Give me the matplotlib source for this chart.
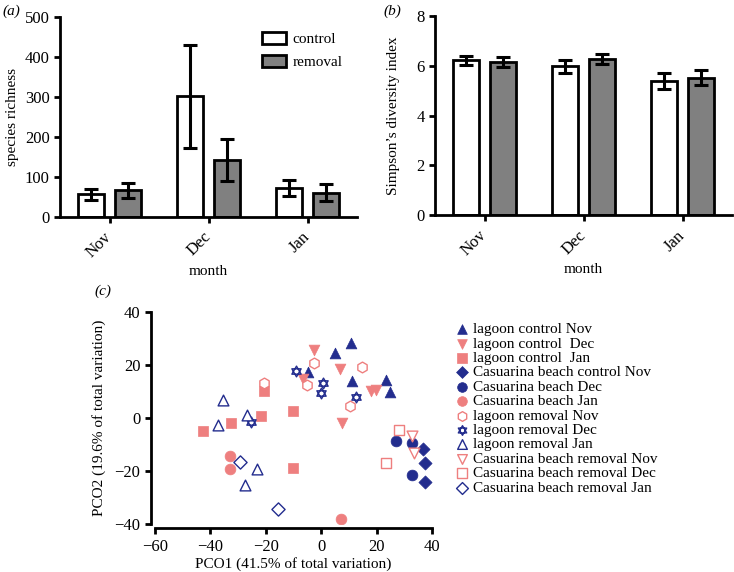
import numpy as np
import matplotlib.pyplot as plt
from matplotlib.path import Path

plt.rcParams['font.family'] = ['Liberation Serif', 'DejaVu Serif']
plt.rcParams['font.size'] = 10.5

# data
months = ['Nov', 'Dec', 'Jan']
rich_control = [56, 301, 72]
rich_control_err = [14, 128, 19]
rich_removal = [66, 142, 60]
rich_removal_err = [19, 53, 21]
simp_control = [6.22, 5.98, 5.38]
simp_control_err = [0.19, 0.26, 0.32]
simp_removal = [6.14, 6.26, 5.52]
simp_removal_err = [0.21, 0.2, 0.31]

lagoon_control_nov = ([10.6, 5.1, -4.8, 11.1, 23.3, 24.7], [28.3, 24.5, 17.3, 13.9, 14.2, 9.8])
lagoon_control_dec = ([-2.7, 6.9, -6.4, 18.1, 19.9, 7.6], [25.5, 18.6, 14.6, 10.2, 10.7, -1.9])
lagoon_control_jan = ([-42.8, -32.5, -20.8, -21.8, -10.2, -10.2], [-4.9, -1.9, 10.2, 0.75, 2.5, -18.8])
cas_control_nov = ([36.7, 37.3, 37.3], [-11.6, -16.8, -24.1])
cas_dec = ([26.9, 32.9, 32.7], [-8.7, -9.4, -21.6])
cas_jan = ([-32.9, -32.9, 7.0], [-14.3, -19.3, -38.3])
lagoon_removal_nov = ([-2.7, -5.2, -20.7, 14.6, 10.5], [20.9, 12.3, 13.2, 19.2, 4.4])
lagoon_removal_dec = ([-9.2, 0.6, -0.2, 12.4, -25.2], [17.7, 13.2, 9.4, 7.9, -1.5])
lagoon_removal_jan = ([-35.5, -37.3, -26.9, -23.3, -27.5], [6.9, -2.5, 1.3, -19.1, -25.4])
cas_removal_nov = ([32.8, 33.5], [-6.9, -13.2])
cas_removal_dec = ([28.1, 23.3], [-4.6, -17.0])
cas_removal_jan = ([-29.4, -15.7], [-16.6, -34.4])

NAVY = '#232d8e'
SALMON = '#ee7f7f'
GRAY = '#808080'

# six-pointed star marker
_up = [(0, 1), (-0.866, -0.5), (0.866, -0.5), (0, 1)]
_dn = [(0, -1), (-0.866, 0.5), (0.866, 0.5), (0, -1)]
star6 = Path(_up + _dn, [Path.MOVETO, Path.LINETO, Path.LINETO, Path.CLOSEPOLY] * 2)

W, H = 734, 572
fig = plt.figure(figsize=(W / 100, H / 100), dpi=100)


def px_axes(x0, x1, y0, y1):
    return fig.add_axes([x0 / W, 1 - y1 / H, (x1 - x0) / W, (y1 - y0) / H])


def bar_panel(ax, ctrl, ctrl_err, rem, rem_err, ylim, yticks, ylabel, ypad):
    x = np.arange(len(months))
    ekw = dict(elinewidth=2.2, capthick=2.2, capsize=5, ecolor='black')
    ax.bar(x - 0.19, ctrl, 0.26, yerr=ctrl_err, color='white', edgecolor='black',
           linewidth=2, error_kw=ekw, label='control', zorder=2)
    ax.bar(x + 0.19, rem, 0.26, yerr=rem_err, color=GRAY, edgecolor='black',
           linewidth=2, error_kw=ekw, label='removal', zorder=2)
    ax.set_xlim(-0.5, 2.5)
    ax.set_ylim(*ylim)
    ax.set_yticks(yticks)
    ax.set_xticks(x)
    ax.set_xticklabels(months, rotation=45, ha='right', va='center',
                       rotation_mode='anchor')
    for s in ['top', 'right']:
        ax.spines[s].set_visible(False)
    for s in ['left', 'bottom']:
        ax.spines[s].set_linewidth(2)
    ax.tick_params(width=2, length=4, labelsize=12)
    ax.tick_params(axis='x', pad=9)
    ax.set_xlabel('month', fontsize=11, labelpad=3)
    ax.set_ylabel(ylabel, fontsize=11, labelpad=ypad)


ax_a = px_axes(60, 357, 16.7, 216.7)
bar_panel(ax_a, rich_control, rich_control_err, rich_removal, rich_removal_err,
          (0, 500), range(0, 501, 100), 'species richness', 4)
ax_a.legend(loc='upper left', bbox_to_anchor=(248 / W, 1 - 18 / H),
            bbox_transform=fig.transFigure, frameon=False, fontsize=11,
            handlelength=1.6, handleheight=0.9, labelspacing=0.55, handletextpad=0.4)

ax_b = px_axes(435, 732, 16, 215)
bar_panel(ax_b, simp_control, simp_control_err, simp_removal, simp_removal_err,
          (0, 8), range(0, 9, 2), "Simpson’s diversity index", 12)

fig.text(2 / W, 1 - 11 / H, '(a)', style='italic', fontsize=11, va='center')
fig.text(383 / W, 1 - 11 / H, '(b)', style='italic', fontsize=11, va='center')
fig.text(94 / W, 1 - 291 / H, '(c)', style='italic', fontsize=11, va='center')

# PCO panel
ax_c = px_axes(155, 432, 312, 524)
groups = [
    (lagoon_control_nov, '^', NAVY, True, 'lagoon control Nov'),
    (lagoon_control_dec, 'v', SALMON, True, 'lagoon control  Dec'),
    (lagoon_control_jan, 's', SALMON, True, 'lagoon control  Jan'),
    (cas_control_nov, 'D', NAVY, True, 'Casuarina beach control Nov'),
    (cas_dec, 'o', NAVY, True, 'Casuarina beach Dec'),
    (cas_jan, 'o', SALMON, True, 'Casuarina beach Jan'),
    (lagoon_removal_nov, 'h', SALMON, False, 'lagoon removal Nov'),
    (lagoon_removal_dec, star6, NAVY, False, 'lagoon removal Dec'),
    (lagoon_removal_jan, '^', NAVY, False, 'lagoon removal Jan'),
    (cas_removal_nov, 'v', SALMON, False, 'Casuarina beach removal Nov'),
    (cas_removal_dec, 's', SALMON, False, 'Casuarina beach removal Dec'),
    (cas_removal_jan, 'D', NAVY, False, 'Casuarina beach removal Jan'),
]
for (xs, ys), mk, col, filled, lab in groups:
    size = 60 if mk != 'D' else 45
    if filled:
        ax_c.scatter(xs, ys, marker=mk, s=size, color=col, edgecolors=col,
                     linewidths=0.5, label=lab, zorder=3)
    else:
        ax_c.scatter(xs, ys, marker=mk, s=size, facecolors='white', edgecolors=col,
                     linewidths=1.0, label=lab, zorder=3)

ax_c.set_xlim(-60, 40)
ax_c.set_ylim(-40, 40)
ax_c.set_xticks(range(-60, 41, 20))
ax_c.set_yticks(range(-40, 41, 20))
for s in ['top', 'right']:
    ax_c.spines[s].set_visible(False)
for s in ['left', 'bottom']:
    ax_c.spines[s].set_linewidth(2)
    ax_c.spines[s].set_position(('outward', 3))
ax_c.tick_params(width=2, length=4, labelsize=12)
ax_c.set_xlabel('PCO1 (41.5% of total variation)', fontsize=11, labelpad=2)
ax_c.set_ylabel('PCO2 (19.6% of total variation)', fontsize=11, labelpad=6)

ax_c.legend(loc='upper left', bbox_to_anchor=(447 / W, 1 - 315 / H),
            bbox_transform=fig.transFigure, frameon=False, fontsize=11,
            labelspacing=0.045, handletextpad=0.2, handlelength=1.0,
            borderpad=0, markerscale=0.9)

fig.savefig('out.png', dpi=100)
